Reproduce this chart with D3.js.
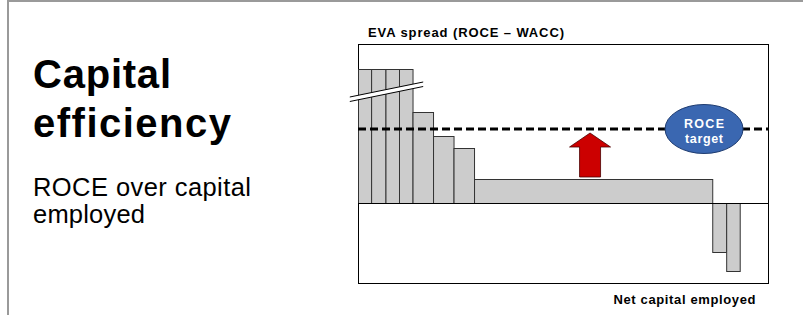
<!DOCTYPE html>
<html lang="en">
<head>
<meta charset="utf-8">
<title>Capital efficiency</title>
<style>
  body { margin: 0; background: #fff; }
  svg text { font-family: Arial, "Liberation Sans", sans-serif; }
  .bar { fill: #cccccc; stroke: #333; stroke-width: 1; }
</style>
</head>
<body>
<div id="chart"></div>
<script src="https://cdn.jsdelivr.net/npm/d3@7"></script>
<script>
// net capital employed per business (width of each bar)
var capital = [3.2, 3.5, 3.3, 3.3, 5.0, 5.0, 5.0, 58.1, 3.4, 3.3];
// EVA spread, ROCE - WACC (height of each bar); first four are cut by the break mark
var spread = [13.4, 13.4, 13.4, 13.4, 9.1, 6.7, 5.5, 2.4, -4.9, -6.8];
var roceTarget = 7.4;
var arrowFrom = 2.6, arrowTo = 7.0, arrowAt = 56.6;
var targetAt = 84.4;

var W = 803, H = 315,
    box = {left: 358, right: 768, top: 44, bottom: 283};

var svg = d3.select("#chart").append("svg")
    .attr("width", W).attr("height", H);

// slide frame
svg.append("line").attr("x1", 8).attr("x2", W).attr("y1", 1).attr("y2", 1)
   .attr("stroke", "#9a9a9a").attr("stroke-width", 2);
svg.append("line").attr("x1", 8).attr("x2", 8).attr("y1", 0).attr("y2", H)
   .attr("stroke", "#9a9a9a").attr("stroke-width", 2);

// left headline
svg.append("text").attr("x", 33).attr("y", 88)
   .attr("font-size", 40).attr("font-weight", "bold")
   .attr("textLength", 138).attr("lengthAdjust", "spacing").text("Capital");
svg.append("text").attr("x", 33).attr("y", 137)
   .attr("font-size", 40).attr("font-weight", "bold")
   .attr("textLength", 198).attr("lengthAdjust", "spacing").text("efficiency");
svg.append("text").attr("x", 33).attr("y", 196)
   .attr("font-size", 25.5)
   .attr("textLength", 218).attr("lengthAdjust", "spacing").text("ROCE over capital");
svg.append("text").attr("x", 33).attr("y", 222.5)
   .attr("font-size", 25.5)
   .attr("textLength", 112).attr("lengthAdjust", "spacing").text("employed");

var x = d3.scaleLinear().domain([0, 100]).range([box.left, box.right]);
var y = d3.scaleLinear().domain([-8, 15.9]).range([box.bottom, box.top]);

var bars = [], acc = 0;
capital.forEach(function(c, i) {
  bars.push({x0: acc, x1: acc + c, v: spread[i]});
  acc += c;
});

var plt = svg.append("g");

plt.append("rect")
   .attr("x", box.left + 0.5).attr("y", box.top + 0.5)
   .attr("width", box.right - box.left).attr("height", box.bottom - box.top)
   .attr("fill", "#fff").attr("stroke", "#000").attr("stroke-width", 1);

plt.selectAll(".bar").data(bars).enter().append("rect")
   .attr("class", "bar")
   .attr("x", function(d) { return x(d.x0) + 0.5; })
   .attr("width", function(d) { return x(d.x1) - x(d.x0); })
   .attr("y", function(d) { return Math.min(y(d.v), y(0)) + 0.5; })
   .attr("height", function(d) { return Math.abs(y(d.v) - y(0)); });

// zero line
plt.append("line")
   .attr("x1", box.left).attr("x2", box.right)
   .attr("y1", y(0) + 0.5).attr("y2", y(0) + 0.5)
   .attr("stroke", "#000").attr("stroke-width", 1);

// axis break across the tall bars
var bx0 = -2, bx1 = 15.9, by0 = 10.6, by1 = 12.1, gap = 0.45;
var band = [[x(bx0), y(by0)], [x(bx1), y(by1)], [x(bx1), y(by1 - gap)], [x(bx0), y(by0 - gap)]];
plt.append("polygon").attr("points", band.join(" ")).attr("fill", "#fff");
plt.append("line").attr("x1", band[0][0]).attr("y1", band[0][1]).attr("x2", band[1][0]).attr("y2", band[1][1])
   .attr("stroke", "#000").attr("stroke-width", 1);
plt.append("line").attr("x1", band[3][0]).attr("y1", band[3][1]).attr("x2", band[2][0]).attr("y2", band[2][1])
   .attr("stroke", "#000").attr("stroke-width", 1);

// ROCE target line
plt.append("line")
   .attr("x1", box.left).attr("x2", box.right)
   .attr("y1", y(roceTarget)).attr("y2", y(roceTarget))
   .attr("stroke", "#000").attr("stroke-width", 3)
   .attr("stroke-dasharray", "8,4");

// red arrow
var ax = x(arrowAt), ayb = y(arrowFrom), ayt = y(arrowTo), hb = ayt + 14;
var arrow = [[ax - 10.5, ayb], [ax - 10.5, hb], [ax - 20.5, hb], [ax, ayt],
             [ax + 20.5, hb], [ax + 10.5, hb], [ax + 10.5, ayb]];
plt.append("polygon").attr("points", arrow.join(" "))
   .attr("fill", "#cc0000").attr("stroke", "#4a0000").attr("stroke-width", 0.8);

// target bubble
var tg = plt.append("g").attr("transform", "translate(" + x(targetAt) + "," + y(roceTarget) + ")");
tg.append("ellipse").attr("rx", 39).attr("ry", 24.5)
  .attr("fill", "#3a67b1").attr("stroke", "#1f3c70").attr("stroke-width", 1);
tg.append("text").attr("text-anchor", "middle").attr("y", -1.5)
  .attr("font-size", 12.5).attr("font-weight", "bold").attr("fill", "#fff")
  .attr("textLength", 40).attr("lengthAdjust", "spacing").text("ROCE");
tg.append("text").attr("text-anchor", "middle").attr("y", 14)
  .attr("font-size", 12.5).attr("font-weight", "bold").attr("fill", "#fff")
  .attr("textLength", 38).attr("lengthAdjust", "spacing").text("target");

// chart titles
svg.append("text").attr("x", 368).attr("y", 36.5)
   .attr("font-size", 13).attr("font-weight", "bold")
   .attr("textLength", 196).attr("lengthAdjust", "spacing")
   .text("EVA spread (ROCE \u2013 WACC)");
svg.append("text").attr("x", 613.5).attr("y", 304)
   .attr("font-size", 13).attr("font-weight", "bold")
   .attr("textLength", 142).attr("lengthAdjust", "spacing")
   .text("Net capital employed");
</script>
</body>
</html>
